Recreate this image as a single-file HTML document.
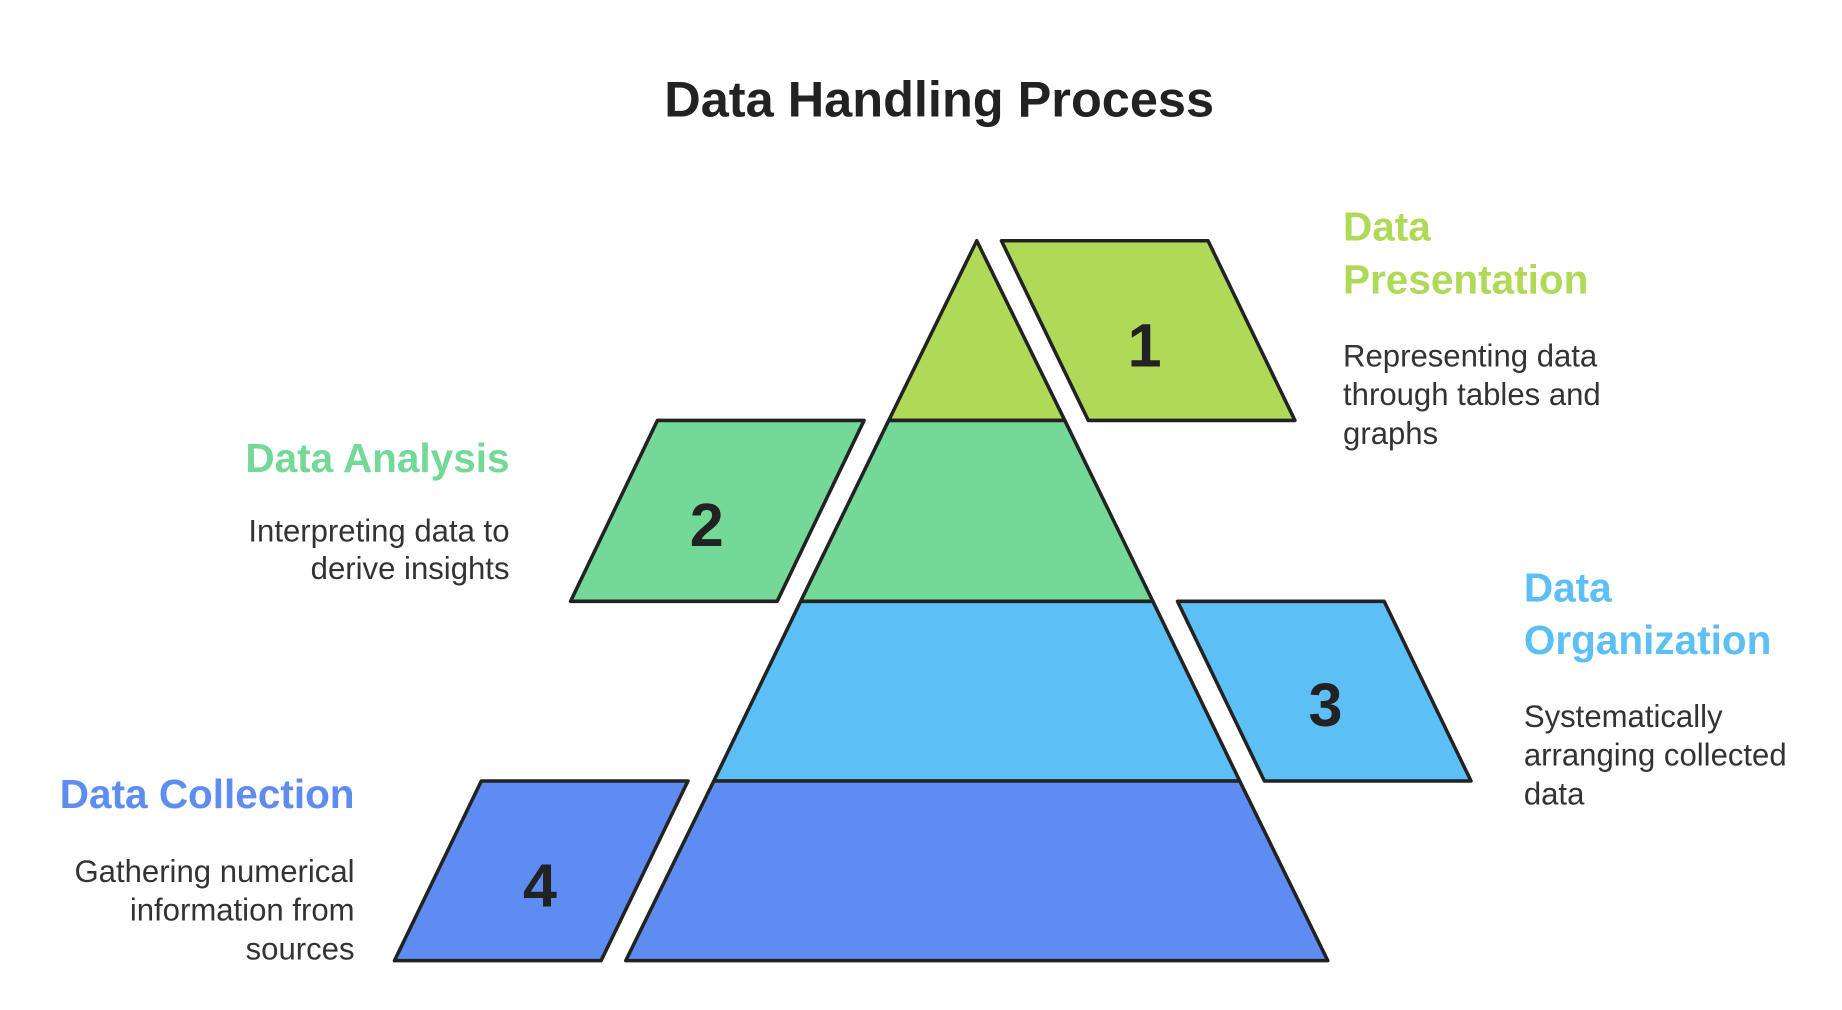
<!DOCTYPE html>
<html><head><meta charset="utf-8"><style>
html,body{margin:0;padding:0;background:#fff;}
svg{display:block;}
text{font-family:"Liberation Sans",sans-serif;}
.h{font-weight:bold;font-size:34.5px;}
.d{font-size:26.5px;fill:#333;}
.n{font-weight:bold;font-size:52px;fill:#222;text-anchor:middle;}
</style></head><body>
<svg width="1842" height="1010" viewBox="0 0 1569 860" preserveAspectRatio="none" xmlns="http://www.w3.org/2000/svg">
<text x="800" y="99" text-anchor="middle" font-weight="bold" font-size="43" fill="#222">Data Handling Process</text>
<g stroke="#222" stroke-width="3" stroke-linejoin="round">
<polygon points="832,205 907,358 757,358" fill="#b0d958"/>
<polygon points="757,358 907,358 982,512 682,512" fill="#74d898"/>
<polygon points="682,512 982,512 1056,665 608,665" fill="#5cbff5"/>
<polygon points="608,665 1056,665 1131,818 533,818" fill="#5e8cf0"/>
<polygon points="853,205 1029,205 1103,358 927,358" fill="#b0d958"/>
<polygon points="560,358 736,358 662,512 486,512" fill="#74d898"/>
<polygon points="1003,512 1179,512 1253,665 1077,665" fill="#5cbff5"/>
<polygon points="410,665 586,665 512,818 336,818" fill="#5e8cf0"/>
</g>
<text class="n" x="975" y="312">1</text>
<text class="n" x="602" y="465">2</text>
<text class="n" x="1129" y="618">3</text>
<text class="n" x="460" y="772">4</text>
<text class="h" x="1144" y="205" fill="#b0d958">Data</text>
<text class="h" x="1144" y="250" fill="#b0d958">Presentation</text>
<text class="d" x="1144" y="312">Representing data</text>
<text class="d" x="1144" y="345">through tables and</text>
<text class="d" x="1144" y="378">graphs</text>
<text class="h" x="434" y="402" fill="#74d898" text-anchor="end">Data Analysis</text>
<text class="d" x="434" y="461" text-anchor="end">Interpreting data to</text>
<text class="d" x="434" y="493" text-anchor="end">derive insights</text>
<text class="h" x="1298" y="512" fill="#5cbff5">Data</text>
<text class="h" x="1298" y="557" fill="#5cbff5">Organization</text>
<text class="d" x="1298" y="619">Systematically</text>
<text class="d" x="1298" y="652">arranging collected</text>
<text class="d" x="1298" y="685">data</text>
<text class="h" x="302" y="688" fill="#5e8cf0" text-anchor="end">Data Collection</text>
<text class="d" x="302" y="751" text-anchor="end">Gathering numerical</text>
<text class="d" x="302" y="784" text-anchor="end">information from</text>
<text class="d" x="302" y="817" text-anchor="end">sources</text>
</svg>
</body></html>
